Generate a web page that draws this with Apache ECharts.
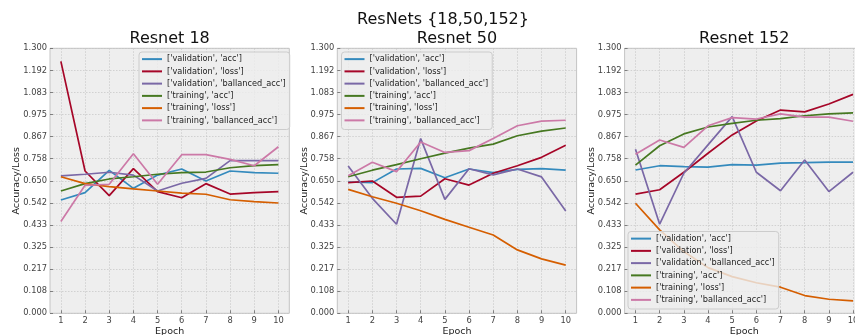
<!DOCTYPE html>
<html>
<head>
<meta charset="utf-8">
<script src="https://cdn.jsdelivr.net/npm/echarts@6/dist/echarts.min.js"></script>
<style>
html,body{margin:0;padding:0;background:#fff;}
#chart{width:855px;height:335px;}
</style>
</head>
<body>
<div id="chart"></div>
<script>
const epochs = [1, 2, 3, 4, 5, 6, 7, 8, 9, 10];
const seriesNames = ["['validation', 'acc']", "['validation', 'loss']", "['validation', 'ballanced_acc']",
                     "['training', 'acc']", "['training', 'loss']", "['training', 'ballanced_acc']"];
const panelTitles = ['Resnet 18', 'Resnet 50', 'Resnet 152'];

const r18_val_acc    = [0.556, 0.592, 0.701, 0.613, 0.678, 0.708, 0.649, 0.698, 0.690, 0.687];
const r18_val_loss   = [1.236, 0.698, 0.577, 0.710, 0.597, 0.567, 0.636, 0.585, 0.592, 0.597];
const r18_val_bal    = [0.674, 0.682, 0.692, 0.678, 0.600, 0.638, 0.662, 0.749, 0.749, 0.749];
const r18_train_acc  = [0.600, 0.636, 0.659, 0.670, 0.682, 0.690, 0.693, 0.714, 0.724, 0.729];
const r18_train_loss = [0.670, 0.636, 0.621, 0.610, 0.600, 0.590, 0.584, 0.557, 0.548, 0.541];
const r18_train_bal  = [0.450, 0.628, 0.633, 0.783, 0.633, 0.778, 0.778, 0.755, 0.724, 0.817];

const r50_val_acc    = [0.644, 0.641, 0.708, 0.711, 0.665, 0.708, 0.690, 0.706, 0.710, 0.702];
const r50_val_loss   = [0.641, 0.649, 0.569, 0.575, 0.660, 0.629, 0.687, 0.724, 0.765, 0.824];
const r50_val_bal    = [0.723, 0.564, 0.437, 0.857, 0.559, 0.709, 0.679, 0.708, 0.669, 0.502];
const r50_train_acc  = [0.670, 0.702, 0.729, 0.758, 0.786, 0.810, 0.830, 0.871, 0.894, 0.909];
const r50_train_loss = [0.608, 0.572, 0.540, 0.503, 0.461, 0.422, 0.384, 0.311, 0.267, 0.236];
const r50_train_bal  = [0.675, 0.741, 0.695, 0.840, 0.789, 0.798, 0.857, 0.920, 0.943, 0.947];

const r152_val_acc    = [0.703, 0.724, 0.720, 0.717, 0.729, 0.727, 0.737, 0.739, 0.742, 0.742];
const r152_val_loss   = [0.585, 0.606, 0.692, 0.785, 0.875, 0.943, 0.997, 0.988, 1.027, 1.074];
const r152_val_bal    = [0.805, 0.437, 0.687, 0.826, 0.965, 0.692, 0.601, 0.752, 0.597, 0.692];
const r152_train_acc  = [0.727, 0.822, 0.880, 0.914, 0.932, 0.947, 0.955, 0.969, 0.978, 0.983];
const r152_train_loss = [0.540, 0.409, 0.303, 0.224, 0.180, 0.150, 0.128, 0.087, 0.069, 0.061];
const r152_train_bal  = [0.780, 0.850, 0.814, 0.920, 0.960, 0.953, 0.978, 0.962, 0.962, 0.942];

const panels = [
  [r18_val_acc, r18_val_loss, r18_val_bal, r18_train_acc, r18_train_loss, r18_train_bal],
  [r50_val_acc, r50_val_loss, r50_val_bal, r50_train_acc, r50_train_loss, r50_train_bal],
  [r152_val_acc, r152_val_loss, r152_val_bal, r152_train_acc, r152_train_loss, r152_train_bal]
];
const colors = ['#348ABD', '#A60628', '#7A68A6', '#467821', '#D55E00', '#CC79A7'];

const FONT = 'DejaVu Sans';
const gridLefts = [50, 337.3, 624.6];
const gridW = 239.3, gridTop = 48.3, gridH = 265;
const legendPos = [{left: 139, top: 52}, {left: 341.5, top: 52}, {left: 628, top: 231.5}];

const grids = [], xAxes = [], yAxes = [], series = [], legends = [], graphics = [];
gridLefts.forEach((gl, p) => {
  grids.push({left: gl, top: gridTop, right: 855 - gl - gridW, height: gridH, show: true,
    backgroundColor: '#eeeeee', borderColor: '#c4c4c4', borderWidth: 1,
    containLabel: false, outerBoundsMode: 'none'});
  xAxes.push({type: 'value', gridIndex: p, min: 0.55, max: 10.45,
    name: 'Epoch', nameLocation: 'middle', nameGap: 13, nameMoveOverlap: false,
    nameTextStyle: {fontFamily: FONT, fontSize: 9.5, color: '#222'},
    axisLine: {show: false},
    axisTick: {show: true, inside: true, length: 3, lineStyle: {color: '#666', width: 0.8}, customValues: epochs},
    axisLabel: {fontFamily: FONT, fontSize: 8.3, color: '#444', margin: 4, customValues: epochs,
      hideOverlap: false, showMaxLabel: true},
    splitLine: {show: true, lineStyle: {color: '#c4c4c4', type: [1.5, 1.5], width: 0.7}}
  });
  yAxes.push({type: 'value', gridIndex: p, min: 0, max: 1.3, interval: 1.3 / 12,
    name: 'Accuracy/Loss', nameLocation: 'middle', nameGap: 28, nameRotate: 90, nameMoveOverlap: false,
    nameTextStyle: {fontFamily: FONT, fontSize: 9.5, color: '#222'},
    axisLine: {show: false},
    axisTick: {show: true, inside: true, length: 3, lineStyle: {color: '#666', width: 0.8}},
    axisLabel: {fontFamily: FONT, fontSize: 8.3, color: '#444', margin: 3,
      formatter: v => v.toFixed(3)},
    splitLine: {show: true, lineStyle: {color: '#c4c4c4', type: [1.5, 1.5], width: 0.7}}
  });
  panels[p].forEach((vals, s) => {
    series.push({type: 'line', name: seriesNames[s], xAxisIndex: p, yAxisIndex: p,
      data: epochs.map((e, i) => [e, vals[i]]), symbol: 'none', showSymbol: false,
      lineStyle: {width: 1.7, color: colors[s]}, itemStyle: {color: colors[s]},
      animation: false, z: 2 + s});
  });
  legends.push({orient: 'vertical', left: legendPos[p].left, top: legendPos[p].top,
    data: seriesNames.map(n => ({name: n, icon: 'rect'})),
    itemWidth: 20, itemHeight: 2, itemGap: 0,
    padding: [1, 4, 3, 3],
    backgroundColor: 'rgba(238,238,238,0.8)', borderColor: '#cccccc', borderWidth: 1, borderRadius: 3,
    textStyle: {fontFamily: FONT, fontSize: 8.2, color: '#222', lineHeight: 12.25},
    selectedMode: false, z: 20});
  graphics.push({type: 'text', x: gl + gridW / 2, y: 38.5, z: 30,
    style: {text: panelTitles[p], fontFamily: FONT, fontSize: 16, fill: '#111',
      textAlign: 'center', textVerticalAlign: 'middle'}});
});
graphics.push({type: 'text', x: 443, y: 20, z: 30,
  style: {text: 'ResNets {18,50,152}', fontFamily: FONT, fontSize: 16, fill: '#111',
    textAlign: 'center', textVerticalAlign: 'middle'}});

const chart = echarts.init(document.getElementById('chart'), null, {renderer: 'canvas'});
chart.setOption({
  animation: false,
  backgroundColor: '#ffffff',
  color: colors,
  grid: grids, xAxis: xAxes, yAxis: yAxes, series: series, legend: legends,
  graphic: graphics
});
</script>
</body>
</html>
